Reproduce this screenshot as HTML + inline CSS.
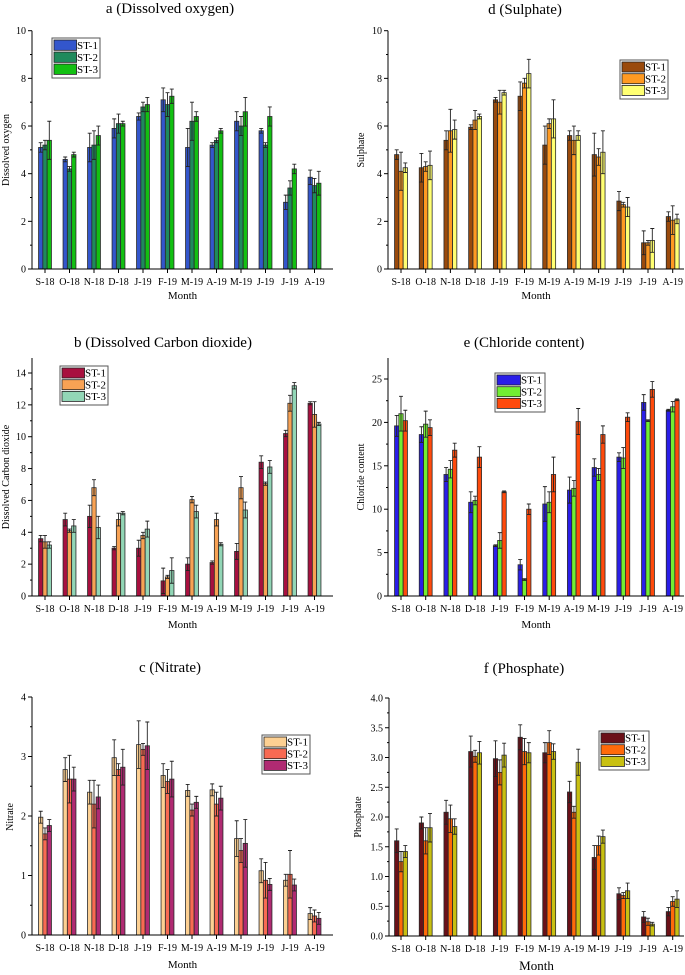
<!DOCTYPE html>
<html><head><meta charset="utf-8"><style>
body{margin:0;background:#fff}
svg{display:block;font-family:"Liberation Serif",serif}
</style></head><body>
<svg id="c" width="685" height="975" viewBox="0 0 685 975" xmlns="http://www.w3.org/2000/svg"></svg>
<script>
const months=["S-18","O-18","N-18","D-18","J-19","F-19","M-19","A-19","M-19","J-19","J-19","A-19"];
const seriesNames=["ST-1","ST-2","ST-3"];
// a Dissolved oxygen
const doST1=[5.1,4.6,5.1,5.9,6.4,7.1,5.1,5.2,6.2,5.8,2.8,3.85];
const doST2=[5.2,4.2,5.2,6.1,6.8,6.9,6.2,5.4,6.0,5.2,3.4,3.5];
const doST3=[5.4,4.8,5.6,6.1,6.9,7.25,6.4,5.8,6.6,6.4,4.2,3.6];
const doErr1=[0.2,0.1,0.6,0.4,0.15,0.5,0.8,0.1,0.4,0.1,0.3,0.3];
const doErr2=[0.2,0.1,0.6,0.4,0.2,0.5,0.8,0.1,0.4,0.1,0.3,0.3];
const doErr3=[0.8,0.1,0.4,0.1,0.3,0.3,0.2,0.1,0.6,0.4,0.2,0.5];
// d Sulphate
const suST1=[4.8,4.25,5.4,5.95,7.1,7.25,5.2,5.6,4.8,2.85,1.1,2.2];
const suST2=[4.1,4.3,5.8,6.25,7.0,7.8,6.1,5.4,4.7,2.7,1.1,2.05];
const suST3=[4.25,4.35,5.85,6.4,7.4,8.2,6.3,5.6,4.9,2.6,1.2,2.1];
const suErr1=[0.2,0.6,0.4,0.1,0.1,0.6,0.8,0.2,0.9,0.4,0.5,0.2];
const suErr2=[0.8,0.2,0.9,0.4,0.5,0.2,0.2,0.6,0.35,0.1,0.1,0.6];
const suErr3=[0.2,0.6,0.4,0.1,0.1,0.6,0.8,0.2,0.9,0.4,0.5,0.2];
// b Dissolved CO2
const coST1=[3.6,4.8,5.0,3.0,3.0,0.95,2.0,2.1,2.8,8.4,10.2,12.1];
const coST2=[3.4,4.1,6.8,4.8,3.8,1.2,6.05,4.8,6.8,7.05,12.1,11.4];
const coST3=[3.2,4.4,4.3,5.2,4.2,1.6,5.3,3.25,5.4,8.1,13.2,10.8];
const coErr1=[0.2,0.4,0.7,0.1,0.5,0.8,0.4,0.1,0.5,0.4,0.2,0.1];
const coErr2=[0.4,0.1,0.5,0.4,0.2,0.1,0.2,0.4,0.7,0.1,0.5,0.8];
const coErr3=[0.2,0.4,0.7,0.1,0.5,0.8,0.4,0.1,0.5,0.4,0.2,0.1];
// e Chloride
const clST1=[19.6,18.6,14.0,10.8,5.8,3.6,10.6,12.2,14.8,16.0,22.3,21.4];
const clST2=[21,19.8,14.6,11.0,6.4,1.9,10.8,12.4,14.0,15.9,20.2,21.8];
const clST3=[20.2,19.4,16.8,16.0,12.0,10.0,14.0,20.1,18.6,20.6,23.8,22.6];
const clErr1=[1.2,0.9,0.8,1.2,0.1,0.6,2.0,1.5,1.0,0.5,0.9,0.1];
const clErr2=[2,1.5,1.0,0.5,0.9,0.1,1.2,0.9,0.7,1.2,0.1,0.6];
const clErr3=[1.2,0.9,0.8,1.2,0.1,0.6,2.0,1.5,1.0,0.5,0.9,0.1];
// c Nitrate
const niST1=[1.98,2.78,2.4,2.98,3.2,2.68,2.43,2.44,1.62,1.08,0.92,0.36];
const niST2=[1.7,2.62,2.2,2.78,3.12,2.58,2.1,2.2,1.42,0.92,1.02,0.32];
const niST3=[1.84,2.62,2.32,2.82,3.18,2.62,2.23,2.3,1.54,0.85,0.84,0.28];
const niErr1=[0.1,0.2,0.2,0.3,0.4,0.2,0.1,0.1,0.3,0.2,0.1,0.1];
const niErr2=[0.1,0.4,0.4,0.1,0.1,0.2,0.1,0.2,0.2,0.3,0.4,0.1];
const niErr3=[0.1,0.2,0.2,0.3,0.4,0.3,0.1,0.2,0.4,0.1,0.1,0.1];
// f Phosphate
const phST1=[1.6,1.9,2.08,3.1,2.98,3.34,3.08,2.42,1.32,0.71,0.32,0.41];
const phST2=[1.25,1.6,1.97,3.02,2.75,3.1,3.25,2.08,1.52,0.68,0.24,0.58];
const phST3=[1.42,1.82,1.84,3.08,3.04,3.08,3.1,2.92,1.67,0.76,0.2,0.62];
const phErr1=[0.2,0.1,0.2,0.26,0.3,0.21,0.17,0.18,0.2,0.1,0.09,0.07];
const phErr2=[0.17,0.22,0.23,0.1,0.21,0.22,0.2,0.1,0.16,0.05,0.06,0.08];
const phErr3=[0.1,0.24,0.13,0.19,0.2,0.17,0.13,0.22,0.11,0.13,0.03,0.14];

const svg=document.getElementById('c');
const NS="http://www.w3.org/2000/svg";
function mk(tag,attrs,parent){const e=document.createElementNS(NS,tag);for(const k in attrs)e.setAttribute(k,attrs[k]);(parent||svg).appendChild(e);return e;}

function panel(p){
  const g=mk('g',{});
  
  
  const ys=v=>p.y0-(v/p.ticksMax)*(p.y0-p.yTopPx);
  const xs=i=>p.xFirst+i*p.dx;
  const t=mk('text',{x:p.titleX,y:p.titleY,'text-anchor':'middle','font-size':15},g);t.textContent=p.title;
  
  
  const bw=4.3;
  for(let s=0;s<3;s++){
    for(let i=0;i<months.length;i++){
      const v=p.vals[s][i],e=p.errs[s][i];
      const cx=xs(i)+(s-1)*bw;
      const r=mk('rect',{x:cx-bw/2,y:ys(v),width:bw,height:p.y0-ys(v),fill:p.colors[s],stroke:'#2a2a2a','stroke-width':0.8},g);
      
      
      const eb=mk('path',{d:`M${cx} ${ys(v-e)}V${ys(v+e)}M${cx-2} ${ys(v+e)}H${cx+2}M${cx-2} ${ys(v-e)}H${cx+2}`,stroke:'#222','stroke-width':0.9,fill:'none'},g);
      
      
    }
  }
  const ax=mk('path',{d:`M${p.ax} ${p.axTop}V${p.y0}H${p.axRight}`,stroke:'#000','stroke-width':1,fill:'none'},g);
  
  
  for(let k=0;k<p.tickLabels.length;k++){
    const v=p.tickVals[k],y=ys(v);
    mk('path',{d:`M${p.ax-4} ${y}H${p.ax}`,stroke:'#000','stroke-width':1},g);
    const tl=mk('text',{x:p.ax-6,y:y+3.5,'text-anchor':'end','font-size':10},g);tl.textContent=p.tickLabels[k];
    
    
    if(k<p.tickLabels.length-1||p.minorTop){const ym=ys(v+p.step/2);if(ym>=p.axTop-0.5)mk('path',{d:`M${p.ax-2} ${ym}H${p.ax}`,stroke:'#000','stroke-width':1},g);}
  }
  for(let i=0;i<months.length;i++){
    mk('path',{d:`M${xs(i)} ${p.y0}V${p.y0+4}`,stroke:'#000','stroke-width':1},g);
    const ml=mk('text',{x:xs(i),y:p.y0+16,'text-anchor':'middle','font-size':10},g);ml.textContent=months[i];
    
    
  }
  const xl=mk('text',{x:(p.ax+p.axRight)/2,y:p.monthY,'text-anchor':'middle','font-size':p.monthFs||11},g);xl.textContent='Month';
  
  
  const yl=mk('text',{x:p.ylX,y:p.ylY,'text-anchor':'middle','font-size':10,transform:`rotate(-90 ${p.ylX} ${p.ylY})`},g);yl.textContent=p.ylabel;
  
  
  const [lx,ly,lw,lh]=p.legend;
  const lg=mk('g',{},g);
  
  
  mk('rect',{x:lx,y:ly,width:lw,height:lh,fill:'#fff',stroke:'#555','stroke-width':1},lg);
  const rh=lh/3;
  for(let s=0;s<3;s++){
    const le=mk('g',{},lg);
    
    
    mk('rect',{x:lx+2,y:ly+2+s*(rh-1.3),width:lw*0.47,height:rh-3,fill:p.colors[s],stroke:'#222','stroke-width':0.8},le);
    const tt=mk('text',{x:lx+lw*0.52,y:ly+s*(rh-1.3)+rh*0.7+1.5,'font-size':11},le);tt.textContent=seriesNames[s];
  }
}

panel({id:'dissolved-oxygen',title:'a (Dissolved oxygen)',titleX:170,titleY:13,ylabel:'Dissolved oxygen',ylX:9,ylY:150,
 vals:[doST1,doST2,doST3],errs:[doErr1,doErr2,doErr3],colors:['#3356cc','#1f8a5c','#12c012'],
 ax:32,axRight:333,axTop:30.7,y0:269,yTopPx:30.7,ticksMax:10,tickVals:[0,2,4,6,8,10],tickLabels:['0','2','4','6','8','10'],step:2,
 xFirst:45,dx:24.5,monthY:299,legend:[52,38,48,40]});
panel({id:'sulphate',title:'d (Sulphate)',titleX:525,titleY:14,ylabel:'Sulphate',ylX:364,ylY:150,
 vals:[suST1,suST2,suST3],errs:[suErr1,suErr2,suErr3],colors:['#9a4a0c','#ff9a22','#ffff72'],
 ax:388,axRight:684,axTop:30.7,y0:269,yTopPx:30.7,ticksMax:10,tickVals:[0,2,4,6,8,10],tickLabels:['0','2','4','6','8','10'],step:2,
 xFirst:401,dx:24.7,monthY:299,legend:[620,60,48,39]});
panel({id:'dissolved-co2',title:'b (Dissolved Carbon dioxide)',titleX:163,titleY:347,ylabel:'Dissolved Carbon dioxide',ylX:9,ylY:477,
 vals:[coST1,coST2,coST3],errs:[coErr1,coErr2,coErr3],colors:['#a8103f','#f8a254','#92d6b6'],
 ax:32,axRight:333,axTop:358,y0:596,yTopPx:373,ticksMax:14,tickVals:[0,2,4,6,8,10,12,14],tickLabels:['0','2','4','6','8','10','12','14'],step:2,minorTop:true,
 xFirst:45,dx:24.5,monthY:628,legend:[60,366,48,39]});
panel({id:'chloride',title:'e (Chloride content)',titleX:524,titleY:347,ylabel:'Chloride content',ylX:364,ylY:477,
 vals:[clST1,clST2,clST3],errs:[clErr1,clErr2,clErr3],colors:['#2a1ee8','#72ee32','#ff4a0c'],
 ax:388,axRight:684,axTop:358,y0:596,yTopPx:379,ticksMax:25,tickVals:[0,5,10,15,20,25],tickLabels:['0','5','10','15','20','25'],step:5,minorTop:true,
 xFirst:401,dx:24.7,monthY:628,legend:[495,373,50,39]});
panel({id:'nitrate',title:'c (Nitrate)',titleX:170,titleY:672,ylabel:'Nitrate',ylX:13,ylY:817,
 vals:[niST1,niST2,niST3],errs:[niErr1,niErr2,niErr3],colors:['#fdd092','#f86a52','#b02a72'],
 ax:32,axRight:333,axTop:697,y0:935,yTopPx:697,ticksMax:4,tickVals:[0,1,2,3,4],tickLabels:['0','1','2','3','4'],step:1,
 xFirst:45,dx:24.5,monthY:968,legend:[262,735,48,39]});
panel({id:'phosphate',title:'f (Phosphate)',titleX:524,titleY:673,ylabel:'Phosphate',ylX:361,ylY:817,
 vals:[phST1,phST2,phST3],errs:[phErr1,phErr2,phErr3],colors:['#6b1018','#ff6a0a','#c8c012'],
 ax:389,axRight:684,axTop:698,y0:936,yTopPx:698,ticksMax:4,tickVals:[0,0.5,1,1.5,2,2.5,3,3.5,4],tickLabels:['0.0','0.5','1.0','1.5','2.0','2.5','3.0','3.5','4.0'],step:0.5,
 xFirst:401,dx:24.7,monthY:970,monthFs:13,legend:[599,731,50,39]});
</script>
</body></html>
